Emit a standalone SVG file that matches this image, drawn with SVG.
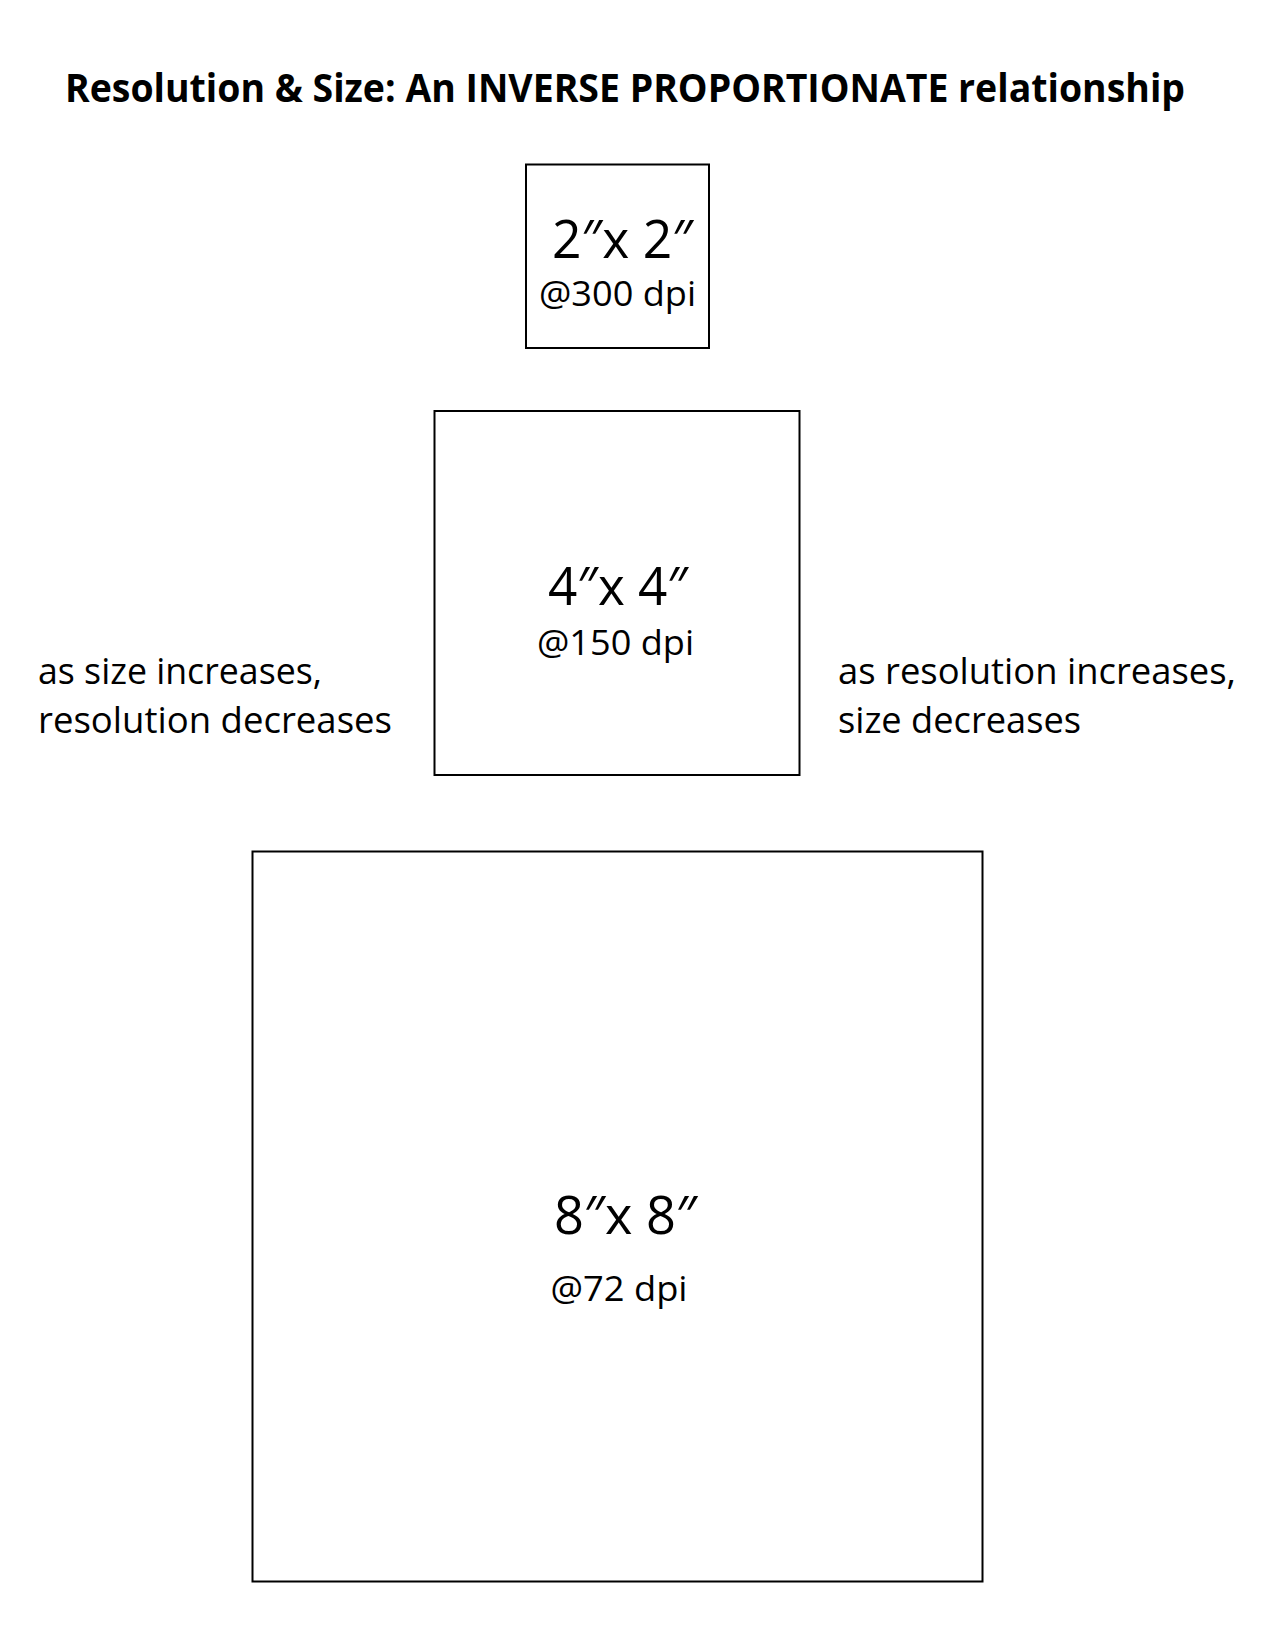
<svg xmlns="http://www.w3.org/2000/svg" width="1275" height="1650" viewBox="0 0 1275 1650">
<style>
text{font-family:"Open Sans","Noto Sans","Liberation Sans",sans-serif;fill:#000}
.title{font-size:40px;font-weight:bold}
.big{font-size:53px}
.dpi{font-size:34px}
.side{font-size:36px}
.box{fill:#fff;stroke:#000;stroke-width:2}
</style>
<rect width="1275" height="1650" fill="#fff"/>
<text class="title" x="65" y="101.5" textLength="1120" lengthAdjust="spacingAndGlyphs">Resolution &amp; Size: An INVERSE PROPORTIONATE relationship</text>
<g id="box-2x2">
<rect class="box" x="526" y="164.5" width="183" height="183.5"/>
<text class="big" x="552" y="258" textLength="141" lengthAdjust="spacingAndGlyphs">2″x 2″</text>
<text class="dpi" x="539" y="306" textLength="157" lengthAdjust="spacingAndGlyphs">@300 dpi</text>
</g>
<g id="box-4x4">
<rect class="box" x="434.5" y="411" width="365" height="364"/>
<text class="big" x="548" y="605" textLength="140" lengthAdjust="spacingAndGlyphs">4″x 4″</text>
<text class="dpi" x="537" y="655" textLength="157" lengthAdjust="spacingAndGlyphs">@150 dpi</text>
</g>
<g id="box-8x8">
<rect class="box" x="252.5" y="851.5" width="730" height="730"/>
<text class="big" x="554" y="1233.5" textLength="143" lengthAdjust="spacingAndGlyphs">8″x 8″</text>
<text class="dpi" x="550.5" y="1301" textLength="137" lengthAdjust="spacingAndGlyphs">@72 dpi</text>
</g>
<g id="note-left">
<text class="side" x="38" y="684" textLength="284" lengthAdjust="spacingAndGlyphs">as size increases,</text>
<text class="side" x="38" y="733" textLength="354" lengthAdjust="spacingAndGlyphs">resolution decreases</text>
</g>
<g id="note-right">
<text class="side" x="838" y="684" textLength="398" lengthAdjust="spacingAndGlyphs">as resolution increases,</text>
<text class="side" x="838" y="733" textLength="243" lengthAdjust="spacingAndGlyphs">size decreases</text>
</g>
<g id="connectors"></g>
</svg>
